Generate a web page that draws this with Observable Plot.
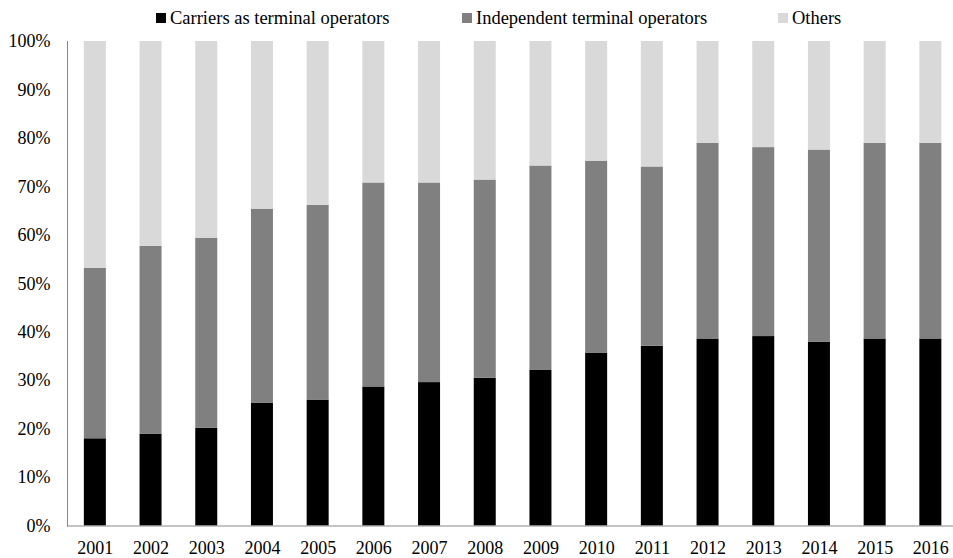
<!DOCTYPE html>
<html>
<head>
<meta charset="utf-8">
<script src="https://cdn.jsdelivr.net/npm/d3@7"></script>
<script src="https://cdn.jsdelivr.net/npm/@observablehq/plot@0.6"></script>
<style>
  html, body { margin: 0; padding: 0; background: #fff; }
  body { width: 953px; height: 558px; overflow: hidden; font-family: "Liberation Serif", "Times New Roman", serif; }
  #legend { position: relative; height: 30px; width: 953px; font-size: 18.5px; color: #000; }
  #legend .item { position: absolute; top: 8px; display: flex; align-items: center; white-space: nowrap; line-height: 20px; }
  #legend .sw { width: 10px; height: 10px; margin-right: 4px; }
  #chart svg { display: block; overflow: visible; }
  #chart svg text { font-family: "Liberation Serif", "Times New Roman", serif !important; font-size: 18px !important; fill: #000; }
</style>
</head>
<body>
<div id="legend"></div>
<div id="chart"></div>
<script>
const years = ["2001","2002","2003","2004","2005","2006","2007","2008","2009","2010","2011","2012","2013","2014","2015","2016"];
const seriesNames = ["Carriers as terminal operators", "Independent terminal operators", "Others"];
const seriesColors = ["#000000", "#808080", "#d9d9d9"];
const carriers    = [18.0, 18.9, 20.2, 25.3, 26.0, 28.7, 29.6, 30.5, 32.1, 35.7, 37.1, 38.6, 39.1, 37.9, 38.6, 38.6];
const independent = [35.2, 38.8, 39.2, 40.1, 40.2, 42.1, 41.2, 40.9, 42.2, 39.6, 37.0, 40.4, 39.0, 39.7, 40.4, 40.4];
const others      = [46.8, 42.3, 40.6, 34.6, 33.8, 29.2, 29.2, 28.6, 25.7, 24.7, 25.9, 21.0, 21.9, 22.4, 21.0, 21.0];
const yTicks = [0, 10, 20, 30, 40, 50, 60, 70, 80, 90, 100];

const seriesValues = [carriers, independent, others];
const data = [];
seriesNames.forEach((name, si) => {
  years.forEach((yr, i) => data.push({year: yr, series: name, value: seriesValues[si][i]}));
});

// legend
const legend = document.getElementById("legend");
const legendX = [156, 462, 778];
seriesNames.forEach((name, i) => {
  const it = document.createElement("div");
  it.className = "item";
  it.style.left = legendX[i] + "px";
  const sw = document.createElement("span");
  sw.className = "sw";
  sw.style.background = seriesColors[i];
  const tx = document.createElement("span");
  tx.textContent = name;
  it.appendChild(sw); it.appendChild(tx);
  legend.appendChild(it);
});

const W = 953, H = 528;
const left = 67, step = 55.7;
const FONT = "'Liberation Serif', 'Times New Roman', serif";
const chart = Plot.plot({
  width: W,
  height: H,
  marginTop: 11,
  marginBottom: 32.5,
  marginLeft: left,
  marginRight: 0,
  style: {fontFamily: FONT, fontSize: "18px", color: "#000", background: "#fff"},
  x: {type: "band", domain: years, range: [left, left + step * years.length], paddingInner: 0.605, paddingOuter: 0.3025, round: false, label: null},
  y: {domain: [0, 100], label: null},
  color: {domain: seriesNames, range: seriesColors},
  marks: [
    Plot.barY(data, {x: "year", y: "value", fill: "series", order: seriesNames}),
    Plot.frame({anchor: "left", stroke: "#898989", strokeOpacity: 1}),
    Plot.ruleY([0], {stroke: "#898989", strokeWidth: 1}),
    Plot.axisY(yTicks, {tickSize: 0, tickPadding: 17, tickFormat: d => d + "%", fill: "#000", label: null, fontFamily: FONT, fontSize: 18}),
    Plot.axisX({tickSize: 0, tickPadding: 15, fill: "#000", label: null, fontFamily: FONT, fontSize: 18})
  ]
});
document.getElementById("chart").appendChild(chart);
</script>
</body>
</html>
